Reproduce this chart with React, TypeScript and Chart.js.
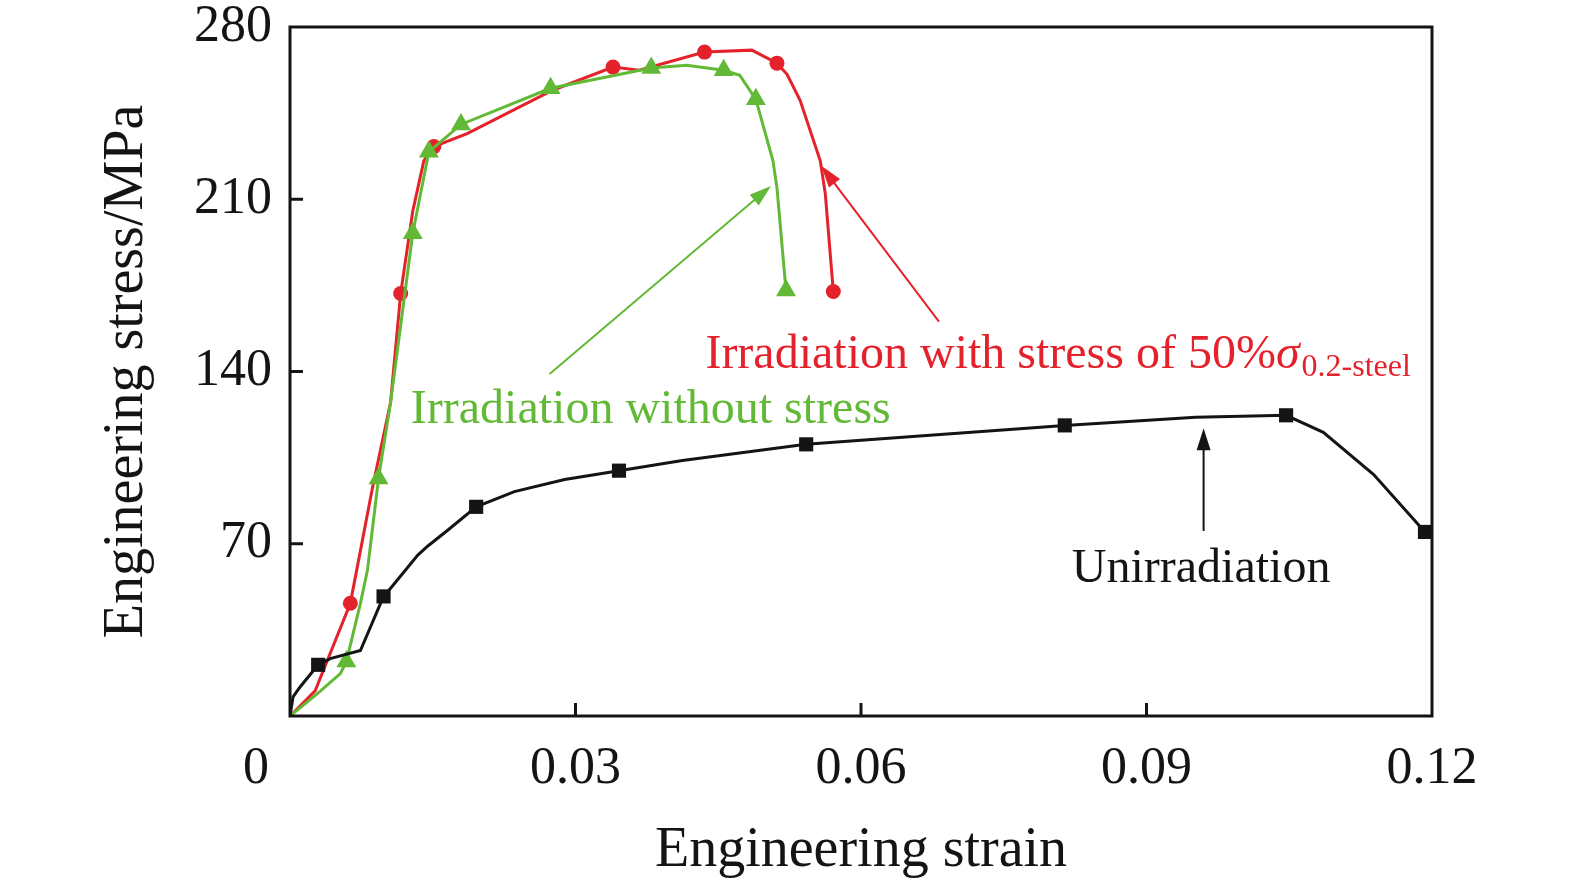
import { useEffect, useRef } from "react";
import { Chart, registerables } from "chart.js";

Chart.register(...registerables);

// unirradiated specimen
const unirrStrain = [0, 0.00032, 0.00106, 0.00296, 0.00423, 0.0074, 0.00983, 0.01057, 0.01343, 0.01449, 0.0166, 0.01956, 0.02358, 0.02886, 0.03457, 0.04123, 0.05424, 0.0687, 0.08141, 0.09516, 0.10467, 0.10858, 0.11387, 0.11926];
const unirrStress = [0, 7.8, 11.8, 20.8, 23.3, 26.6, 48.6, 51.9, 65.4, 69.1, 75.6, 85.0, 91.2, 96.1, 99.7, 103.8, 110.4, 114.5, 118.1, 121.4, 122.2, 115.3, 98.1, 74.8];
const unirrMarks = [3, 6, 11, 14, 16, 18, 20, 23];

// irradiated under 50% yield stress
const stressedStrain = [0, 0.00264, 0.00634, 0.00867, 0.01057, 0.01163, 0.0129, 0.01406, 0.01512, 0.01861, 0.0276, 0.03394, 0.03669, 0.04356, 0.04853, 0.05117, 0.05223, 0.0536, 0.05572, 0.05625, 0.05709];
const stressedStress = [0, 10.2, 45.8, 92.8, 127.5, 171.7, 205.2, 225.6, 231.4, 236.7, 254.3, 263.7, 262.4, 269.8, 270.6, 265.3, 260.8, 250.2, 225.6, 212.2, 172.5];
const stressedMarks = [2, 5, 8, 11, 13, 15, 20];

// irradiated without stress
const freeStrain = [0, 0.00285, 0.00529, 0.00592, 0.0074, 0.00814, 0.0093, 0.01057, 0.0129, 0.01459, 0.01797, 0.02738, 0.03796, 0.04166, 0.04557, 0.04726, 0.04895, 0.05075, 0.05117, 0.05212];
const freeStress = [0, 9.0, 17.2, 22.1, 45.8, 59.3, 96.5, 127.5, 196.2, 229.3, 240.4, 255.1, 263.3, 264.5, 262.4, 260.4, 250.6, 225.6, 214.6, 172.9];
const freeMarks = [3, 6, 8, 9, 10, 11, 12, 14, 16, 19];

const xTicks = [0, 0.03, 0.06, 0.09, 0.12];
const yTicks = [0, 70, 140, 210, 280];

const RED = "#E4222B";
const GREEN = "#62B935";
const BLACK = "#141414";
const SERIF = "'Liberation Serif', 'Times New Roman', serif";

const toPoints = (xs: number[], ys: number[]) => xs.map((x, i) => ({ x, y: ys[i] }));

function arrow(ctx: CanvasRenderingContext2D, x1: number, y1: number, x2: number, y2: number, color: string) {
  const ang = Math.atan2(y2 - y1, x2 - x1);
  const len = 22;
  const half = 7;
  ctx.save();
  ctx.strokeStyle = color;
  ctx.fillStyle = color;
  ctx.lineWidth = 2;
  ctx.beginPath();
  ctx.moveTo(x1, y1);
  ctx.lineTo(x2 - Math.cos(ang) * len * 0.8, y2 - Math.sin(ang) * len * 0.8);
  ctx.stroke();
  ctx.beginPath();
  ctx.moveTo(x2, y2);
  ctx.lineTo(x2 - Math.cos(ang) * len - Math.sin(ang) * half, y2 - Math.sin(ang) * len + Math.cos(ang) * half);
  ctx.lineTo(x2 - Math.cos(ang) * len + Math.sin(ang) * half, y2 - Math.sin(ang) * len - Math.cos(ang) * half);
  ctx.closePath();
  ctx.fill();
  ctx.restore();
}

const decorPlugin = {
  id: "decor",
  afterDraw(chart: any) {
    const { ctx, chartArea: a, scales } = chart;
    const xs = scales.x;
    const ys = scales.y;
    ctx.save();
    // frame
    ctx.strokeStyle = BLACK;
    ctx.lineWidth = 3;
    ctx.strokeRect(a.left, a.top, a.right - a.left, a.bottom - a.top);
    // inward tick marks
    xTicks.slice(1, -1).forEach((v) => {
      const px = xs.getPixelForValue(v);
      ctx.beginPath();
      ctx.moveTo(px, a.bottom);
      ctx.lineTo(px, a.bottom - 13);
      ctx.stroke();
    });
    yTicks.slice(1, -1).forEach((v) => {
      const py = ys.getPixelForValue(v);
      ctx.beginPath();
      ctx.moveTo(a.left, py);
      ctx.lineTo(a.left + 13, py);
      ctx.stroke();
    });

    // shared origin label
    ctx.fillStyle = BLACK;
    ctx.font = `52px ${SERIF}`;
    ctx.textAlign = "center";
    ctx.textBaseline = "alphabetic";
    ctx.fillText("0", a.left - 34, 783);

    // axis titles
    ctx.font = `56px ${SERIF}`;
    ctx.fillText("Engineering strain", (a.left + a.right) / 2, 866);
    ctx.save();
    ctx.translate(142, (a.top + a.bottom) / 2);
    ctx.rotate(-Math.PI / 2);
    ctx.fillText("Engineering stress/MPa", 0, 0);
    ctx.restore();

    // annotations
    const P = (x: number, y: number) => [xs.getPixelForValue(x), ys.getPixelForValue(y)];
    const [rx1, ry1] = P(0.06819, 160.3);
    const [rx2, ry2] = P(0.05582, 223.6);
    arrow(ctx, rx1, ry1, rx2, ry2, RED);
    const [gx1, gy1] = P(0.02728, 139.0);
    const [gx2, gy2] = P(0.05054, 215.4);
    arrow(ctx, gx1, gy1, gx2, gy2, GREEN);
    const [bx1, by1] = P(0.096, 75.2);
    const [bx2, by2] = P(0.096, 116.9);
    arrow(ctx, bx1, by1, bx2, by2, BLACK);

    ctx.textAlign = "left";
    ctx.font = `48px ${SERIF}`;
    ctx.fillStyle = RED;
    const redMain = "Irradiation with stress of 50%";
    const [tx, ty] = P(0.04365, 141.6);
    ctx.fillText(redMain, tx, ty);
    let cx = tx + ctx.measureText(redMain).width;
    ctx.font = `italic 48px ${SERIF}`;
    ctx.fillText("σ", cx, ty);
    cx += ctx.measureText("σ").width + 2;
    ctx.font = `32px ${SERIF}`;
    ctx.fillText("0.2-steel", cx, ty + 8);

    ctx.font = `48px ${SERIF}`;
    ctx.fillStyle = GREEN;
    const [gtx, gty] = P(0.0127, 119.2);
    ctx.fillText("Irradiation without stress", gtx, gty);

    ctx.fillStyle = BLACK;
    const [btx, bty] = P(0.08215, 54.6);
    ctx.fillText("Unirradiation", btx, bty);
    ctx.restore();
  },
};

export default function App() {
  const canvasRef = useRef<HTMLCanvasElement>(null);
  const chartRef = useRef<Chart | null>(null);

  useEffect(() => {
    if (!canvasRef.current) return;
    document.body.style.margin = "0";
    if (chartRef.current) chartRef.current.destroy();

    const marked = (marks: number[], r: number) => (c: any) => (marks.includes(c.dataIndex) ? r : 0);

    chartRef.current = new Chart(canvasRef.current, {
      type: "scatter",
      data: {
        datasets: [
          {
            label: "Unirradiation",
            data: toPoints(unirrStrain, unirrStress),
            showLine: true,
            borderColor: BLACK,
            backgroundColor: BLACK,
            borderWidth: 3,
            pointStyle: "rect",
            pointRadius: marked(unirrMarks, 10),
            pointBorderWidth: 0,
          },
          {
            label: "Irradiation without stress",
            data: toPoints(freeStrain, freeStress),
            showLine: true,
            borderColor: GREEN,
            backgroundColor: GREEN,
            borderWidth: 3,
            pointStyle: "triangle",
            pointRadius: marked(freeMarks, 11.5),
            pointBorderWidth: 0,
          },
          {
            label: "Irradiation with stress of 50%σ0.2-steel",
            data: toPoints(stressedStrain, stressedStress),
            showLine: true,
            borderColor: RED,
            backgroundColor: RED,
            borderWidth: 3,
            pointStyle: "circle",
            pointRadius: marked(stressedMarks, 7.5),
            pointBorderWidth: 0,
          },
        ],
      },
      options: {
        responsive: false,
        animation: false,
        layout: { padding: { top: 27, right: 143, left: 0, bottom: 0 } },
        plugins: { legend: { display: false }, tooltip: { enabled: false } },
        scales: {
          x: {
            type: "linear",
            min: 0,
            max: 0.12,
            afterBuildTicks: (s: any) => {
              s.ticks = xTicks.map((value) => ({ value }));
            },
            afterFit: (s: any) => {
              s.height = 169;
            },
            grid: { display: false },
            border: { display: false },
            ticks: {
              autoSkip: false,
              maxRotation: 0,
              padding: 14,
              color: BLACK,
              font: { family: SERIF, size: 52 },
              callback: (v: any) => (v === 0 ? "" : String(v)),
            },
          },
          y: {
            type: "linear",
            min: 0,
            max: 280,
            afterBuildTicks: (s: any) => {
              s.ticks = yTicks.map((value) => ({ value }));
            },
            afterFit: (s: any) => {
              s.width = 290;
            },
            grid: { display: false },
            border: { display: false },
            ticks: {
              autoSkip: false,
              padding: 10,
              color: BLACK,
              font: { family: SERIF, size: 52, lineHeight: 0.5 },
              callback: (v: any) => (v === 0 ? "" : String(v)),
            },
          },
        },
      },
      plugins: [decorPlugin],
    });

    return () => {
      chartRef.current?.destroy();
      chartRef.current = null;
    };
  }, []);

  return (
    <div style={{ width: 1575, height: 885, background: "#fff" }}>
      <canvas ref={canvasRef} width={1575} height={885} />
    </div>
  );
}
